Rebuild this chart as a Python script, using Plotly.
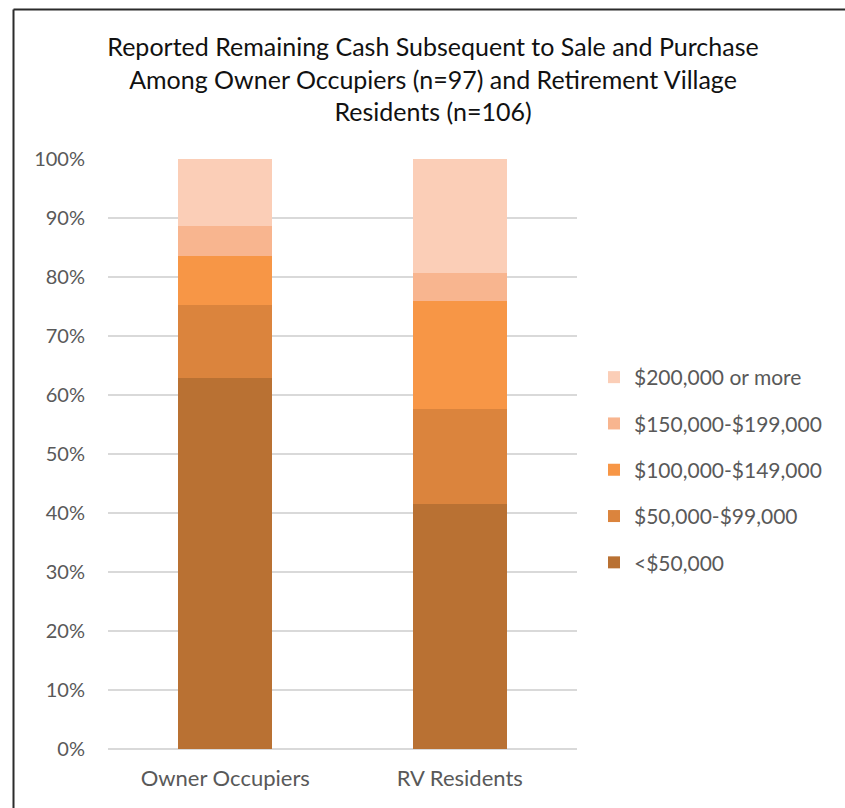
import plotly.graph_objects as go

# Groups on the x axis
groups = ["Owner Occupiers", "RV Residents"]

# Share of respondents in each remaining-cash band (fraction of group)
band_labels = ["<$50,000", "$50,000-$99,000", "$100,000-$149,000",
               "$150,000-$199,000", "$200,000 or more"]
under_50k = [0.629, 0.415]
k50_99 = [0.124, 0.161]
k100_149 = [0.082, 0.184]
k150_199 = [0.052, 0.046]
k200_plus = [0.113, 0.194]

band_values = [under_50k, k50_99, k100_149, k150_199, k200_plus]
band_colors = ["#B97133", "#DB843D", "#F79646", "#F8B58F", "#FBCEB7"]

title_text = ("Reported Remaining Cash Subsequent to Sale and Purchase<br>"
              "Among Owner Occupiers (n=97) and Retirement Village<br>"
              "Residents (n=106)")

FONT = "Lato, 'Open Sans', sans-serif"

fig = go.Figure()
n = len(band_labels)
for i, (name, vals, col) in enumerate(zip(band_labels, band_values, band_colors)):
    fig.add_trace(go.Bar(
        x=groups, y=vals, name=name, legendgroup=name,
        legendrank=1000 + (n - i),   # highest band listed first
        marker=dict(color=col, line=dict(width=0)),
        hoverinfo="skip",
    ))

W, H = 845, 808
L, R, T, B = 108, 268, 159, 59
pw, ph = W - L - R, H - T - B

def px_x(p):
    return (p - L) / pw

def px_y(p):
    return (H - B - p) / ph

fig.update_layout(
    width=W, height=H,
    margin=dict(l=L, r=R, t=T, b=B, pad=0),
    paper_bgcolor="white", plot_bgcolor="white",
    barmode="stack", bargap=0.6,
    font=dict(family=FONT, color="#595959"),
    title=dict(
        text=title_text, x=433 / W, xanchor="center",
        y=1 - 56 / H, yanchor="middle",
        font=dict(family=FONT, size=25, color="#111111"),
    ),
    xaxis=dict(
        showgrid=False, showline=False, zeroline=False,
        tickfont=dict(size=22, color="#595959"), ticks="",
        ticklabelstandoff=14,
    ),
    yaxis=dict(
        range=[0, 1], tickformat=".0%", dtick=0.1,
        showgrid=True, gridcolor="#D9D9D9", gridwidth=2,
        zeroline=True, zerolinecolor="#D9D9D9", zerolinewidth=2,
        showline=False, ticks="",
        tickfont=dict(size=20, color="#595959"),
        ticklabelstandoff=22,
    ),
    legend=dict(
        traceorder="grouped", tracegroupgap=16,
        x=px_x(594), xanchor="left", y=px_y(470), yanchor="middle",
        font=dict(size=21, color="#595959"),
        itemwidth=30, bgcolor="rgba(0,0,0,0)",
    ),
    shapes=[
        dict(type="line", xref="paper", yref="paper",
             x0=px_x(13.5), x1=px_x(W + 5), y0=px_y(9.5), y1=px_y(9.5),
             line=dict(color="#2b2b2b", width=2)),
        dict(type="line", xref="paper", yref="paper",
             x0=px_x(13.5), x1=px_x(13.5), y0=px_y(9.5), y1=px_y(H + 5),
             line=dict(color="#2b2b2b", width=2)),
    ],
)

fig.write_html("out.html")
